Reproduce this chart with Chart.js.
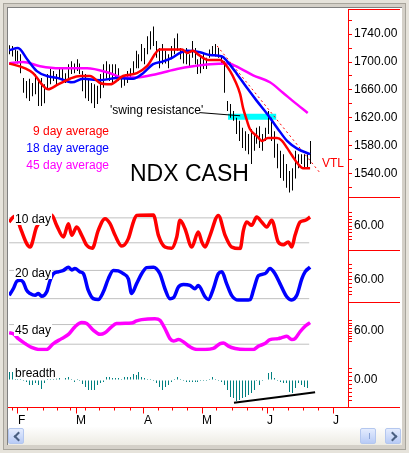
<!DOCTYPE html>
<html>
<head>
<meta charset="utf-8">
<script src="https://cdn.jsdelivr.net/npm/chart.js@4.4.0/dist/chart.umd.min.js"></script>
<style>
  html, body { margin: 0; padding: 0; }
  body { width: 409px; height: 453px; position: relative; overflow: hidden; background: #e6e3db; }
  #moldura { position: absolute; left: 3px; top: 3px; width: 401px; height: 445px; border: 1px solid #a8a59c; background: #d4d0c8; }
  #area { position: absolute; left: 7px; top: 7px; width: 395px; height: 420px; background: #fff; border-left: 1px solid #808080; border-top: 1px solid #808080; box-sizing: border-box; }
  #rolagem { position: absolute; left: 7px; top: 427px; width: 395px; height: 18px; background: linear-gradient(#fefefe, #edebe3); border-left: 1px solid #808080; box-sizing: border-box; }
  .botao { position: absolute; top: 1px; width: 16px; height: 16px; border: 1px solid #b4c7ef; border-radius: 2px; background: linear-gradient(#e4ecfe, #b8cbf6); box-sizing: border-box; }
  .seta { position: absolute; top: 4px; width: 5px; height: 5px; border-left: 2px solid #4a6082; border-bottom: 2px solid #4a6082; }
  .esq { left: 6px; transform: rotate(45deg); }
  .dir { left: 3px; transform: rotate(-135deg); }
  .polegar { position: absolute; top: 1px; left: 352px; width: 16px; height: 16px; border: 1px solid #b4c7ef; border-radius: 2px; box-sizing: border-box;
             background: repeating-linear-gradient(90deg, transparent 0 4px, #8aa3d6 4px 5px, transparent 5px 6px) , linear-gradient(#e4ecfe, #b8cbf6);
             background-size: 8px 6px, auto; background-position: 4px 4px, 0 0; background-repeat: no-repeat; }
  canvas { position: absolute; left: 0; top: 0; }
</style>
</head>
<body>
<div id="moldura"></div>
<div id="area"></div>
<div id="rolagem">
  <div class="botao" style="left:0px"><span class="seta esq"></span></div>
  <div class="polegar"></div>
  <div class="botao" style="left:377px"><span class="seta dir"></span></div>
</div>
<canvas id="grafico" width="409" height="453"></canvas>

<script>
// ================= DADOS (dia = indice do pregão) =================
// barras de preço (maxima / minima de cada dia)
const maximas = [1724,1723,1718,1716,1711,1677,1673,1676,1670,1683, 1673,1677,1668,1683,1690,1687,1683,1690,1691,1684,
  1697,1701,1698,1704,1698,1687,1683,1676,1670,1668, 1666,1683,1697,1701,1697,1697,1697,1691,1677,1680,
  1687,1691,1701,1716,1711,1726,1720,1737,1744,1751, 1730,1720,1726,1716,1711,1723,1734,1741,1720,1718,
  1720,1711,1730,1720,1704,1708,1713,1706,1718,1723, 1726,1720,1708,1701,1644,1640,1630,1620,1616,1606,
  1601,1597,1604,1597,1606,1608,1597,1606,1630,1620, 1601,1583,1573,1568,1554,1544,1548,1573,1568,1568,
  1568,1568,1587];
const minimas = [1711,1708,1701,1698,1684,1656,1648,1644,1651,1654, 1637,1637,1641,1661,1668,1673,1666,1676,1673,1670,
  1677,1683,1684,1687,1683,1658,1648,1644,1641,1634, 1640,1648,1663,1676,1673,1668,1676,1673,1663,1666,
  1670,1676,1683,1691,1691,1701,1697,1711,1718,1723, 1706,1691,1697,1698,1691,1704,1711,1716,1704,1698,
  1697,1694,1706,1697,1683,1684,1690,1690,1706,1711, 1708,1706,1697,1656,1630,1620,1616,1597,1587,1577,
  1573,1568,1554,1573,1583,1577,1573,1587,1597,1587, 1563,1548,1534,1530,1520,1513,1516,1533,1548,1554,
  1548,1548,1554];

// medias moveis
const mm9Dias = [0,5.4,8.1,11.5,13.2,16.6,20.6,24,27.4,30.8, 34.2,38.6,43.3,46.7,51.1,58.6,60.3,62.3,64,65.7,
  67.4,71.5,73.2,74.9,76.6,78.3,79.3,80.6,81.6,84, 85.7,87.7,90.8,92.5,94.2,95.9,97.9,99.6,102];
const mm9 = [1698,1691,1684,1666,1661,1668,1676,1680,1680,1670, 1668,1680,1684,1694,1718,1718,1713,1716,1711,1706,
  1703,1703,1697,1687,1673,1654,1634,1616,1604,1594, 1587,1591,1591,1587,1577,1566,1554,1548,1548];
const mm18Dias = [0,3,6.1,9.4,12.8,16.6,21.3,25,30.8,36.6, 42,45.4,48.8,52.2,55.2,57.9,60.3,64.7,68.1,72.2,
  73.9,77.2,80.6,84,87.4,90.8,94.2,97.6,102];
const mm18 = [1717,1720,1704,1687,1680,1677,1671,1676,1674,1677, 1676,1684,1697,1701,1706,1713,1716,1714,1710,1708,
  1701,1683,1663,1644,1626,1606,1587,1576,1568];
const mm45Dias = [0,4.7,10.5,17.2,26.4,34.2,38.6,43.3,50.1,56.9,62.3,68.1,74.2,78.3,82.7,88.4,92.8,96.2,101.2];
const mm45 = [1698,1700,1694,1691,1691,1684,1678,1678,1683,1690,1694,1697,1698,1691,1681,1671,1656,1644,1627];

// osciladores
const osc10Dias = [0,1.4,2.5,3.7,7.1,9.3,12,14.4,16.1,18.4, 20.1,21.2,22.9,24.6,26.3,28.2,30.2,32.5,34.2,35.9,
  38.2,40.4,42.1,43.2,48.9,50.6,52.8,55.1,56.8,57.9, 59.6,61.9,64.1,65.3,66.4,68.1,70.9,73.2,75.4,78.3,
  79.4,80.5,82.2,83.9,85.6,87.3,89,91.2,92.9,94.6, 95.8,96.9,98.6,100.3,102];
const osc10 = [70,82,86,58,10,58,80,87,62,34, 66,38,58,38,14,7,50,78,66,38, 12,30,70,86,87,38,10,7,34,74,
  54,10,46,22,10,38,86,38,10,6, 50,70,62,82,70,58,74,22,15,22, 10,38,70,74,82];
const osc20Dias = [0,1.4,2.6,3.7,4.8,5.9,7.1,8.8,9.9,11, 12.7,13.9,15,16.7,18.4,20.1,21.2,22.3,24,25.2,
  26.8,28.5,30.2,31.9,33.6,35.3,37,38.7,40.4,41.5, 43.2,44.9,46.6,48.9,51.1,52.8,54.5,55.7,57.4,59.1,
  61.3,63,64.1,66.4,67.5,69.2,70.9,72.1,73.7,75.4, 77.7,80,81.7,82.8,84.5,86.7,88.4,90.1,91.8,94.1,
  95.8,97.5,99.2,100.3,102];
const osc20 = [27,41,57,59,55,38,31,27,31,25, 34,59,73,77,80,87,81,84,77,73, 38,20,18,34,62,80,79,73,62,31,
  52,73,86,87,73,41,20,22,45,50, 48,41,48,24,18,41,73,77,52,27, 17,17,18,38,69,73,84,73,52,24, 17,27,62,77,87];
const osc45Dias = [0,1.4,3.1,5.4,7.6,9.9,12.7,15,17.8,20.1, 22.3,24.6,26.3,28.5,30.8,32.5,34.7,36.4,41.5,43.2,
  44.9,49.4,51.1,52.8,54.5,55.7,57.4,59.1,61.3,63.6, 66.4,69.2,71.5,72.6,74.3,76.6,80,82.8,84.5,86.7,
  88.4,91.2,92.4,94.1,95.8,96.9,98.6,100.3,102];
const osc45 = [55,52,37,22,10,4,4,22,37,50, 73,86,83,63,50,55,73,83,85,91, 95,98,93,68,37,30,34,27,12,4,
  4,7,22,24,14,7,4,4,14,22, 34,37,40,44,34,37,58,75,86];
const faixas = [20, 80];          // linhas cinzas dos osciladores
const faixaDias = [0, 101.7];

// breadth (histograma diario)
const breadth = [8,8,2,2,1,-1,-2,-5,-5,-3, -5,-9,-3,1,1,1,2,2,0.5,2, 3,1,-2,1,-1,-4,-7,-10,-10,-10,
  -5,-3,-2,3,3,2,2,2,1,3, 3,3,6,5,8,3,2,1,1,-1, -3,-7,-10,-7,-5,-2,1,3,1,-1,
  -2,-2,-2,-2,-2,-1,-1,-1,1,3, 1,-1,-2,-5,-10,-17,-18,-21,-20,-18, -17,-15,-13,-10,-1,-5,-1,0.5,7,8,
  2,-1,-2,-3,-3,-12,-13,-8,-3,-5, -7,-8];
const tendBreadthDias = [76.2, 103.7];
const tendBreadth = [-22.7, -12.3];

// anotacoes do painel de preço
const vtlDias = [70.5, 105.4];
const vtl = [1723, 1541];
const resistDias = [74.2, 90.5];
const resist = [1621.5, 1621.5];
const setaDias = [64.7, 78.3];
const seta = [1627.5, 1623];

// eixos
const mesesDias = [3, 22.7, 45.7, 65.4, 87.4, 109.8];
const mesesRotulos = ['F', 'M', 'A', 'M', 'J', 'J'];
const semanasDias = [1, 6, 11.5, 16.2, 20.6, 25.7, 30.5, 35.5, 41, 50.5, 55.2, 60.3, 70.1, 75.5, 80.6, 85.7, 89.5, 94.5, 99.6, 104.7];
const precoTicks = [1520,1540,1560,1580,1600,1620,1640,1660,1680,1700,1720,1740,1760];
const oscTicks = [28,36,44,52,60,68,76,84,92];
const breadthTicks = [-20,-16,-12,-8,-4,0,4,8,12];

// ================= MONTAGEM =================
const FONTE = '"Liberation Sans", Arial, sans-serif';
const VERMELHO = '#ff0000';
const pares = (xs, ys) => xs.map((x, i) => ({ x: x, y: ys[i] }));

// cria um eixo y empilhado a direita
function eixoY(min, max, peso, ticks, rotulo) {
  return {
    type: 'linear', position: 'right', stack: 'paineis', stackWeight: peso, min: min, max: max,
    border: { color: VERMELHO, width: 1 },
    grid: { drawOnChartArea: false, color: VERMELHO, tickColor: VERMELHO, tickLength: 4 },
    ticks: { color: '#000', font: { family: FONTE, size: 12 }, padding: 2, autoSkip: false, callback: rotulo },
    afterBuildTicks: s => { s.ticks = ticks.map(v => ({ value: v })); },
    afterFit: s => { s.width = 52; }
  };
}

function linha(dados, eixo, cor, largura, ordem, extra) {
  return Object.assign({
    type: 'line', data: dados, yAxisID: eixo, borderColor: cor, borderWidth: largura,
    pointRadius: 0, fill: false, order: ordem, cubicInterpolationMode: 'monotone'
  }, extra || {});
}

const datasets = [
  linha(pares(resistDias, resist), 'yP', '#00ffff', 6, 20, { borderCapStyle: 'butt' }),
  {
    type: 'bar', data: maximas.map((h, i) => ({ x: i, y: [minimas[i], h] })), yAxisID: 'yP',
    backgroundColor: '#000', barThickness: 1, inflateAmount: 0, grouped: false, order: 10
  },
  linha(pares(setaDias, seta), 'yP', '#000', 1, 9),
  linha(pares(vtlDias, vtl), 'yP', VERMELHO, 1, 5, { borderDash: [2, 3] }),
  linha(pares(mm45Dias, mm45), 'yP', '#ff00ff', 2.5, 3),
  linha(pares(mm18Dias, mm18), 'yP', '#0000ff', 2.5, 2),
  linha(pares(mm9Dias, mm9), 'yP', VERMELHO, 2.5, 1),
  linha(pares(osc10Dias, osc10), 'y10', VERMELHO, 3.5, 4),
  linha(pares(osc20Dias, osc20), 'y20', '#0000ff', 3.5, 4),
  linha(pares(osc45Dias, osc45), 'y45', '#ff00ff', 3.5, 4),
  {
    type: 'bar', data: breadth.map((v, i) => ({ x: i, y: v })), yAxisID: 'yB',
    backgroundColor: '#008080', barThickness: 1, inflateAmount: 0, grouped: false, order: 6
  },
  linha(pares(tendBreadthDias, tendBreadth), 'yB', '#000', 2, 0)
];
// linhas cinzas 20/80 de cada oscilador
['y10', 'y20', 'y45'].forEach(id => {
  faixas.forEach(v => {
    datasets.push(linha(pares(faixaDias, faixaDias.map(() => v)), id, '#c0c0c0', 1, 8));
  });
});

// textos soltos e rotulos dos paineis
const textos = [
  { texto: '9 day average', x: 109, y: 135, cor: VERMELHO, alinha: 'right', tam: 12 },
  { texto: '18 day average', x: 109, y: 152, cor: '#0000ff', alinha: 'right', tam: 12 },
  { texto: '45 day average', x: 109, y: 169, cor: '#ff00ff', alinha: 'right', tam: 12 },
  { texto: 'NDX CASH', x: 130, y: 181, cor: '#000', alinha: 'left', tam: 23 },
  { texto: "'swing resistance'", x: 110, y: 114, cor: '#000', alinha: 'left', tam: 12 },
  { texto: 'VTL', x: 322, y: 167, cor: VERMELHO, alinha: 'left', tam: 12 }
];
const rotulosPaineis = [
  { texto: '10 day', x: 15, y: 223 },
  { texto: '20 day', x: 15, y: 277 },
  { texto: '45 day', x: 15, y: 334 },
  { texto: 'breadth', x: 15, y: 377 }
];

const desenhos = {
  id: 'desenhos',
  afterDatasetsUpdate(chart) {
    // encaixa as barras de 1px no pixel (senão ficam cinzas borradas)
    chart.data.datasets.forEach((ds, i) => {
      if (ds.type !== 'bar') return;
      chart.getDatasetMeta(i).data.forEach(el => { el.x = Math.floor(el.x) + 0.5; });
    });
  },
  afterDatasetsDraw(chart) {
    const ctx = chart.ctx;
    ctx.save();
    ctx.textBaseline = 'alphabetic';
    ctx.font = '12px ' + FONTE;
    rotulosPaineis.forEach(r => { // fundo branco por cima das linhas
      const w = ctx.measureText(r.texto).width;
      ctx.fillStyle = '#fff';
      ctx.fillRect(r.x - 1, r.y - 10, w + 2, 12);
      ctx.fillStyle = '#000';
      ctx.textAlign = 'left';
      ctx.fillText(r.texto, r.x, r.y);
    });
    textos.forEach(t => {
      ctx.font = t.tam + 'px ' + FONTE;
      ctx.fillStyle = t.cor;
      ctx.textAlign = t.alinha;
      ctx.fillText(t.texto, t.x, t.y);
    });
    ctx.restore();
  },
  afterDraw(chart) {
    const ctx = chart.ctx, area = chart.chartArea, x = chart.scales.x;
    const yb = Math.floor(x.top) + 0.5;
    ctx.save();
    ctx.strokeStyle = VERMELHO;
    ctx.lineWidth = 1;
    ctx.beginPath();
    ['yP', 'y10', 'y20', 'y45'].forEach(id => { // separadores na area do eixo
      const y = Math.floor(chart.scales[id].top) + 0.5;
      ctx.moveTo(area.right, y); ctx.lineTo(400, y);
    });
    ctx.moveTo(8, yb); ctx.lineTo(area.left, yb);   // eixo x vai de ponta a ponta
    ctx.moveTo(area.right, yb); ctx.lineTo(400, yb);
    semanasDias.forEach(d => { // ticks semanais
      const px = Math.round(x.getPixelForValue(d)) + 0.5;
      ctx.moveTo(px, yb); ctx.lineTo(px, yb + 3);
    });
    ctx.stroke();
    ctx.restore();
  }
};

new Chart(document.getElementById('grafico'), {
  type: 'line',
  data: { datasets: datasets },
  options: {
    responsive: false,
    animation: false,
    devicePixelRatio: 1,
    layout: { padding: { left: 9, top: 8, right: 9, bottom: 26 } },
    plugins: { legend: { display: false }, tooltip: { enabled: false } },
    scales: {
      x: {
        type: 'linear', min: -0.05, max: 114.85, offset: false,
        border: { color: VERMELHO, width: 1 },
        grid: { drawOnChartArea: false, offset: false, color: VERMELHO, tickColor: VERMELHO, tickLength: 6 },
        ticks: { align: 'start', padding: 0, maxRotation: 0, autoSkip: false, color: '#000',
                 font: { family: FONTE, size: 12 }, callback: (v, i) => mesesRotulos[i] },
        afterBuildTicks: s => { s.ticks = mesesDias.map(v => ({ value: v })); },
        afterFit: s => { s.height = 19.5; }
      },
      yP: eixoY(1505.3, 1775.7, 189.3, precoTicks, v => (v % 40 === 20 ? v.toFixed(2) : '')),
      y10: eixoY(1.5, 128, 52.7, oscTicks, v => (v === 60 ? '60.00' : '')),
      y20: eixoY(12.2, 122.4, 52, oscTicks, v => (v === 60 ? '60.00' : '')),
      y45: eixoY(-1.3, 147.9, 49, oscTicks, v => (v === 60 ? '60.00' : '')),
      yB: eixoY(-27.5, 29, 56.5, breadthTicks, v => (v === 0 ? '0.00' : ''))
    }
  },
  plugins: [desenhos]
});
</script>
</body>
</html>
